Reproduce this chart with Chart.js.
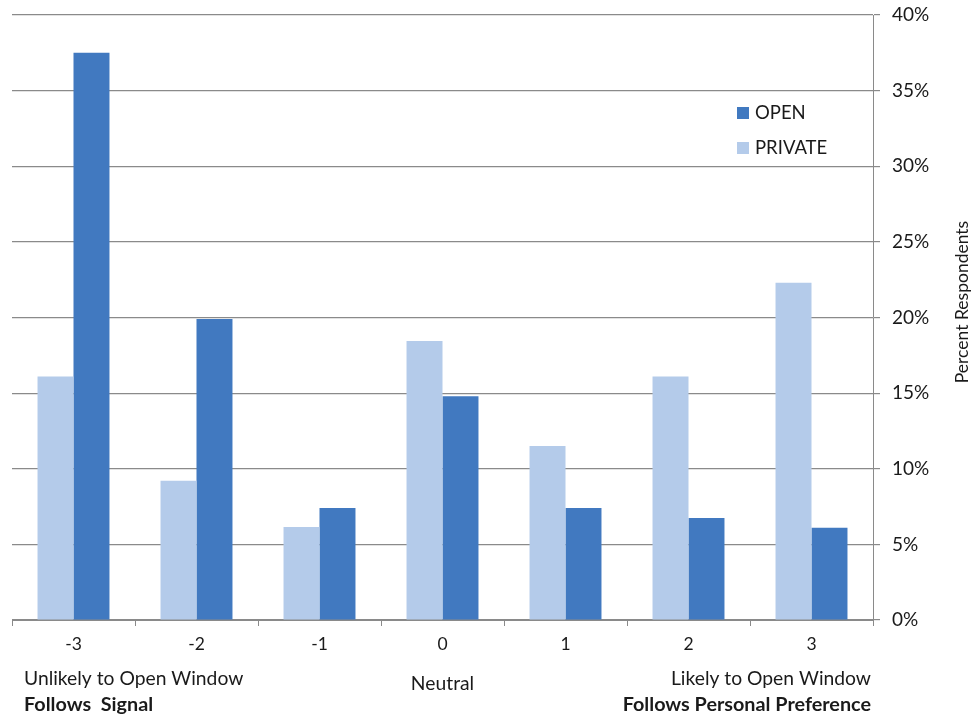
<!DOCTYPE html>
<html>
<head>
<meta charset="utf-8">
<script src="https://cdn.jsdelivr.net/npm/chart.js@4"></script>
<style>
  html, body { margin: 0; padding: 0; background: #fff; }
  #wrap { width: 973px; height: 719px; position: relative; }
</style>
</head>
<body>
<div id="wrap"><canvas id="c" width="973" height="719"></canvas></div>
<script>
// Likert scale from "follows signal" (-3) to "follows personal preference" (3)
const categories = ['-3', '-2', '-1', '0', '1', '2', '3'];
const privateValues = [16.1, 9.2, 6.15, 18.45, 11.5, 16.1, 22.3];
const openValues = [37.5, 19.9, 7.4, 14.8, 7.4, 6.75, 6.1];
const yTicks = [0, 5, 10, 15, 20, 25, 30, 35, 40];

const FONT = 'Lato, "Open Sans", sans-serif';
const TEXT = '#1a1a1a';
const AXIS = '#8a8a8a';
const OPEN_COLOR = '#4179c0';
const PRIVATE_COLOR = '#b4cbea';

const extras = {
  id: 'extras',
  afterDraw(chart) {
    const ctx = chart.ctx;
    const a = chart.chartArea;
    const x = chart.scales.x;
    ctx.save();
    ctx.fillStyle = TEXT;
    ctx.textBaseline = 'middle';

    // legend inside the plot, OPEN listed first
    const items = [
      { label: 'OPEN', color: OPEN_COLOR, y: 113 },
      { label: 'PRIVATE', color: PRIVATE_COLOR, y: 148 }
    ];
    ctx.font = '18.5px ' + FONT;
    items.forEach(it => {
      ctx.fillStyle = it.color;
      ctx.fillRect(737, it.y - 6, 12, 12);
      ctx.fillStyle = TEXT;
      ctx.textAlign = 'left';
      ctx.fillText(it.label, 755, it.y);
    });

    // scale end descriptions beneath the category ticks
    ctx.font = '19.3px ' + FONT;
    ctx.textAlign = 'left';
    ctx.fillText('Unlikely to Open Window', 24, 679);
    ctx.textAlign = 'center';
    ctx.fillText('Neutral', x.getPixelForValue(3), 684);
    ctx.textAlign = 'right';
    ctx.fillText('Likely to Open Window', a.right - 2, 679);
    ctx.font = 'bold 19.8px ' + FONT;
    ctx.textAlign = 'left';
    ctx.fillText('Follows  Signal', 24, 705);
    ctx.textAlign = 'right';
    ctx.fillText('Follows Personal Preference', a.right - 2, 705);

    // axis title, reading bottom to top
    ctx.font = '17.5px ' + FONT;
    ctx.translate(962, 302);
    ctx.rotate(-Math.PI / 2);
    ctx.textAlign = 'center';
    ctx.fillText('Percent Respondents', 0, 0);
    ctx.restore();
  }
};

new Chart(document.getElementById('c'), {
  type: 'bar',
  data: {
    labels: categories,
    datasets: [
      { label: 'PRIVATE', data: privateValues, backgroundColor: PRIVATE_COLOR },
      { label: 'OPEN', data: openValues, backgroundColor: OPEN_COLOR }
    ]
  },
  options: {
    responsive: false,
    animation: false,
    layout: { padding: { left: 12, right: 0, top: 0, bottom: 0 } },
    datasets: { bar: { categoryPercentage: 0.585, barPercentage: 1 } },
    plugins: { legend: { display: false }, tooltip: { enabled: false } },
    scales: {
      x: {
        offset: true,
        grid: { offset: true, drawOnChartArea: false, color: AXIS, tickLength: 6 },
        border: { color: AXIS, width: 1 },
        ticks: { color: TEXT, font: { family: FONT, size: 17.5 }, padding: 8 },
        afterFit(s) { s.height = 99; }
      },
      y: {
        position: 'right',
        min: 0,
        max: 40,
        afterBuildTicks(s) { s.ticks = yTicks.map(v => ({ value: v })); },
        grid: { color: AXIS, tickLength: 7, lineWidth: 1.2 },
        border: { color: AXIS, width: 1 },
        ticks: {
          color: TEXT,
          font: { family: FONT, size: 19 },
          padding: 12,
          callback: v => v + '%'
        },
        afterFit(s) { s.width = 100; s.paddingTop = 15; s.paddingBottom = 0; }
      }
    }
  },
  plugins: [extras]
});
</script>
</body>
</html>
